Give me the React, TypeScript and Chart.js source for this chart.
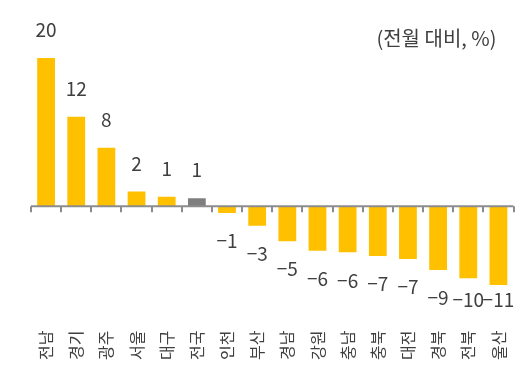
import React, { useEffect, useRef } from "react";
import { Chart, registerables } from "chart.js";

Chart.register(...registerables);

const categories = ["전남", "경기", "광주", "서울", "대구", "전국", "인천", "부산", "경남", "강원", "충남", "충북", "대전", "경북", "전북", "울산"];
const values = [20.0, 12.1, 7.9, 2.0, 1.3, 1.1, -0.9, -2.6, -4.7, -6.0, -6.2, -6.7, -7.1, -8.6, -9.7, -10.6];
const highlightCategory = "전국";
const yMin = -15;
const yMax = 25;
const unitLabel = "(전월 대비, %)";

const YELLOW = "#FFC000";
const GRAY_BAR = "#7F7F7F";
const AXIS = "#8C8C8C";
const TEXT = "#404040";
const FONT = '"Noto Sans CJK KR", "Noto Sans", sans-serif';

const formatLabel = (v: number) => v.toFixed(0).replace("-", "\u2212");

const overlayPlugin = {
  id: "overlay",
  afterDatasetsDraw(chart: any) {
    const { ctx, chartArea, scales } = chart;
    const x = scales.x;
    const y = scales.y;
    const y0 = y.getPixelForValue(0);
    ctx.save();
    ctx.strokeStyle = AXIS;
    ctx.lineWidth = 2;
    ctx.beginPath();
    ctx.moveTo(chartArea.left, y0);
    ctx.lineTo(chartArea.right, y0);
    ctx.stroke();
    for (let i = 0; i <= categories.length; i++) {
      const px = Math.round(x.getPixelForValue(i - 0.5));
      ctx.beginPath();
      ctx.moveTo(px, y0);
      ctx.lineTo(px, y0 + 6);
      ctx.stroke();
    }
    const meta = chart.getDatasetMeta(0);
    ctx.fillStyle = TEXT;
    ctx.font = `19px ${FONT}`;
    ctx.textAlign = "center";
    ctx.textBaseline = "middle";
    const clampY = chartArea.bottom - 18;
    meta.data.forEach((bar: any, i: number) => {
      const v = values[i];
      const ly = v >= 0 ? bar.y - 28 : Math.min(bar.y + 28, clampY);
      ctx.fillText(formatLabel(v), bar.x, ly);
    });
    ctx.font = `20px ${FONT}`;
    ctx.textAlign = "right";
    ctx.fillText(unitLabel, chartArea.right - 17, chartArea.top + 17);
    ctx.restore();
  },
};

export default function App() {
  const ref = useRef<HTMLCanvasElement | null>(null);
  useEffect(() => {
    if (!ref.current) return;
    const chart = new Chart(ref.current, {
      type: "bar",
      data: {
        labels: categories,
        datasets: [
          {
            data: values,
            backgroundColor: categories.map((c) => (c === highlightCategory ? GRAY_BAR : YELLOW)),
            borderWidth: 0,
            categoryPercentage: 1,
            barPercentage: 0.59,
          },
        ],
      },
      options: {
        responsive: false,
        animation: false,
        layout: { padding: { left: 31, right: 12, top: 21, bottom: 17 } },
        plugins: { legend: { display: false }, tooltip: { enabled: false } },
        scales: {
          x: {
            grid: { display: false, drawTicks: false },
            border: { display: false },
            ticks: {
              autoSkip: false,
              minRotation: 90,
              maxRotation: 90,
              padding: 13,
              color: TEXT,
              font: { family: FONT, size: 16 },
            },
          },
          y: {
            display: false,
            min: yMin,
            max: yMax,
          },
        },
      },
      plugins: [overlayPlugin],
    });
    return () => chart.destroy();
  }, []);
  return (
    <div style={{ position: "fixed", left: 0, top: 0, width: 531, height: 390, background: "#fff" }}>
      <canvas ref={ref} width={531} height={390} style={{ display: "block" }} />
    </div>
  );
}
